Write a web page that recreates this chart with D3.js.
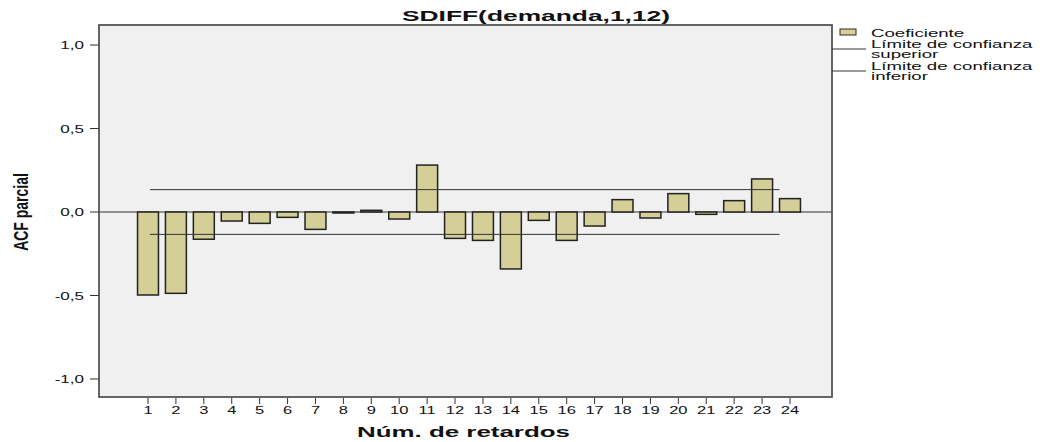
<!DOCTYPE html>
<html>
<head>
<meta charset="utf-8">
<script src="https://cdn.jsdelivr.net/npm/d3@7"></script>
<style>
  body { margin: 0; background: #fff; }
  text { font-family: "Liberation Sans", Arial, sans-serif; fill: #111; }
</style>
</head>
<body>
<svg id="chart" width="1042" height="442"></svg>
<script>
// data
const lags = [1, 2, 3, 4, 5, 6, 7, 8, 9, 10, 11, 12, 13, 14, 15, 16, 17, 18, 19, 20, 21, 22, 23, 24];
const pacf = [-0.497, -0.487, -0.163, -0.054, -0.068, -0.032, -0.104, -0.005, 0.010, -0.042, 0.281, -0.158,
              -0.170, -0.341, -0.050, -0.170, -0.084, 0.074, -0.036, 0.110, -0.014, 0.068, 0.198, 0.080];
const confUpper = 0.134;
const confLower = -0.134;
const yTicks = [1.0, 0.5, 0.0, -0.5, -1.0];
const yTickLabels = ["1,0", "0,5", "0,0", "-0,5", "-1,0"];
const legendLabels = ["Coeficiente", "Límite de confianza", "superior", "Límite de confianza", "inferior"];

const barFill = "#d3cf97";
const frame = { left: 99, top: 25, right: 832, bottom: 397 };

const svg = d3.select("#chart");

const x = d3.scalePoint().domain(lags).range([148, 790]);
const y = d3.scaleLinear().domain([-1, 1]).range([379, 45]);
const barW = x.step() * 0.75;

// stretched text helper (the source render is wide)
function label(g, txt, px, py, opts) {
  return g.append("text")
    .attr("transform", `translate(${px},${py}) scale(${opts.sx || 1},1)` + (opts.rotate ? ` rotate(${opts.rotate})` : ""))
    .attr("text-anchor", opts.anchor || "start")
    .attr("font-size", opts.size)
    .attr("font-weight", opts.bold ? "bold" : "normal")
    .text(txt);
}

// plot background
svg.append("rect")
  .attr("x", frame.left).attr("y", frame.top)
  .attr("width", frame.right - frame.left).attr("height", frame.bottom - frame.top)
  .attr("fill", "#f0f0f0");

// zero line
svg.append("line")
  .attr("x1", frame.left).attr("x2", frame.right)
  .attr("y1", y(0)).attr("y2", y(0))
  .attr("stroke", "#333").attr("stroke-width", 1);

// bars
svg.selectAll("rect.bar")
  .data(pacf)
  .enter()
  .append("rect")
  .attr("class", "bar")
  .attr("x", (d, i) => x(lags[i]) - barW / 2)
  .attr("y", d => y(Math.max(0, d)))
  .attr("width", barW)
  .attr("height", d => Math.max(1, Math.abs(y(d) - y(0))))
  .attr("fill", barFill)
  .attr("stroke", "#222")
  .attr("stroke-width", 1.5);

// confidence limits
[confUpper, confLower].forEach(c => {
  svg.append("line")
    .attr("x1", x(lags[0]) + 2).attr("x2", x(lags[lags.length - 1]) - barW / 2)
    .attr("y1", y(c)).attr("y2", y(c))
    .attr("stroke", "#333").attr("stroke-width", 1);
});

// frame
svg.append("rect")
  .attr("x", frame.left).attr("y", frame.top)
  .attr("width", frame.right - frame.left).attr("height", frame.bottom - frame.top)
  .attr("fill", "none").attr("stroke", "#555").attr("stroke-width", 1.8);

// y axis ticks
const yAxis = svg.append("g");
yTicks.forEach((v, i) => {
  yAxis.append("line")
    .attr("x1", frame.left - 9).attr("x2", frame.left)
    .attr("y1", y(v)).attr("y2", y(v))
    .attr("stroke", "#333");
  label(yAxis, yTickLabels[i], frame.left - 15, y(v) + 4, { size: 11, sx: 1.55, anchor: "end" });
});

// x axis ticks
const xAxis = svg.append("g");
lags.forEach(l => {
  xAxis.append("line")
    .attr("x1", x(l)).attr("x2", x(l))
    .attr("y1", frame.bottom + 1).attr("y2", frame.bottom + 7)
    .attr("stroke", "#333");
  label(xAxis, l, x(l), 414, { size: 11, sx: 1.5, anchor: "middle" });
});

// titles
svg.append("text")
  .attr("x", 402).attr("y", 21)
  .attr("font-size", 15).attr("font-weight", "bold")
  .attr("textLength", 268).attr("lengthAdjust", "spacingAndGlyphs")
  .text("SDIFF(demanda,1,12)");

svg.append("text")
  .attr("x", 357).attr("y", 437)
  .attr("font-size", 15).attr("font-weight", "bold")
  .attr("textLength", 213).attr("lengthAdjust", "spacingAndGlyphs")
  .text("Núm. de retardos");

label(svg, "ACF parcial", 28, 212, { size: 14, sx: 1.5, anchor: "middle", bold: true, rotate: -90 });

// legend
const lg = svg.append("g");
lg.append("rect")
  .attr("x", 840).attr("y", 29).attr("width", 16).attr("height", 6)
  .attr("fill", barFill).attr("stroke", "#2a2a2a");
[49, 71].forEach(ly => {
  lg.append("line")
    .attr("x1", frame.right).attr("x2", 866)
    .attr("y1", ly).attr("y2", ly)
    .attr("stroke", "#333");
});
const legendY = [37, 48, 58, 70, 80];
legendLabels.forEach((t, i) => {
  label(lg, t, 871, legendY[i], { size: 11.5, sx: 1.62 });
});
</script>
</body>
</html>
